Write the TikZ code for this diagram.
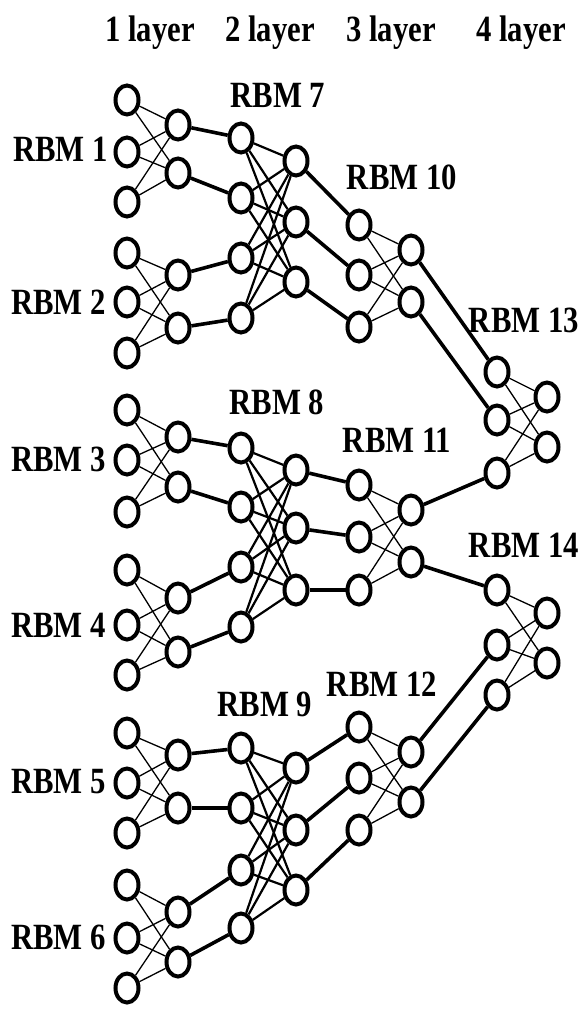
\documentclass[tikz,border=0pt]{standalone}
\usepackage{fontspec}
\setmainfont{Liberation Serif}
\usepackage{graphicx}
\usetikzlibrary{shapes.geometric}
\newcommand{\lbl}[1]{\scalebox{0.83}[1]{\bfseries #1}}
\begin{document}
\begin{tikzpicture}[x=1pt,y=-1pt,
  nd/.style={ellipse,draw,line width=4pt,minimum width=23pt,minimum height=29pt,inner sep=0pt},
  thinl/.style={line width=1.3pt},
  midl/.style={line width=2.2pt},
  thickl/.style={line width=3.6pt},
  lab/.style={inner sep=0pt,font=\fontsize{37}{40}\selectfont}]
\useasboundingbox (0,0) rectangle (582,1011);
% nodes
\foreach \y [count=\i] in {100,152,202,253,302,353,410,460,512,570,625,675,733,783,833,885,938,988}
  \node[nd] (a\i) at (127,\y) {};
\foreach \y [count=\i] in {125,173,275,328,437,487,598,652,755,808,912,962}
  \node[nd] (b\i) at (178,\y) {};
\foreach \y [count=\i] in {138,198,258,318,448,507,567,627,748,808,870,928}
  \node[nd] (c\i) at (241,\y) {};
\foreach \y [count=\i] in {161,222,282,470,528,590,768,830,890}
  \node[nd] (d\i) at (296,\y) {};
\foreach \y [count=\i] in {225,275,327,485,537,590,727,778,830}
  \node[nd] (e\i) at (359,\y) {};
\foreach \y [count=\i] in {250,302,510,562,752,802}
  \node[nd] (f\i) at (411,\y) {};
\foreach \y [count=\i] in {372,420,473,590,645,695}
  \node[nd] (g\i) at (497,\y) {};
\foreach \y [count=\i] in {397,447,613,663}
  \node[nd] (h\i) at (547,\y) {};
% layer 1 RBMs
\foreach \r in {0,...,5}
  \foreach \p in {1,2,3}
    \foreach \q in {1,2}{
      \pgfmathtruncatemacro{\u}{3*\r+\p}
      \pgfmathtruncatemacro{\v}{2*\r+\q}
      \draw[thinl] (a\u) -- (b\v);
    }
% layer 2 RBMs
\foreach \r in {0,1,2}
  \foreach \p in {1,...,4}
    \foreach \q in {1,2,3}{
      \pgfmathtruncatemacro{\u}{4*\r+\p}
      \pgfmathtruncatemacro{\v}{3*\r+\q}
      \draw[midl] (c\u) -- (d\v);
    }
% layer 3 RBMs
\foreach \r in {0,1,2}
  \foreach \p in {1,2,3}
    \foreach \q in {1,2}{
      \pgfmathtruncatemacro{\u}{3*\r+\p}
      \pgfmathtruncatemacro{\v}{2*\r+\q}
      \draw[thinl] (e\u) -- (f\v);
    }
% layer 4 RBMs
\foreach \r in {0,1}
  \foreach \p in {1,2,3}
    \foreach \q in {1,2}{
      \pgfmathtruncatemacro{\u}{3*\r+\p}
      \pgfmathtruncatemacro{\v}{2*\r+\q}
      \draw[thinl] (g\u) -- (h\v);
    }
% between layers
\foreach \i in {1,...,12} \draw[thickl] (b\i) -- (c\i);
\foreach \i in {1,...,9} \draw[thickl] (d\i) -- (e\i);
\foreach \i in {1,...,6} \draw[thickl] (f\i) -- (g\i);
% headers
\node[lab,anchor=base] (t1) at (150,42) {\lbl{1 layer}};
\node[lab,anchor=base] (t2) at (270,42) {\lbl{2 layer}};
\node[lab,anchor=base] (t3) at (391,42) {\lbl{3 layer}};
\node[lab,anchor=base] (t4) at (521,42) {\lbl{4 layer}};
% RBM labels
\node[lab,anchor=east] (r1) at (108,149) {\lbl{RBM 1}};
\node[lab,anchor=east] (r2) at (106,302) {\lbl{RBM 2}};
\node[lab,anchor=east] (r3) at (106,459) {\lbl{RBM 3}};
\node[lab,anchor=east] (r4) at (106,625) {\lbl{RBM 4}};
\node[lab,anchor=east] (r5) at (106,782) {\lbl{RBM 5}};
\node[lab,anchor=east] (r6) at (106,937) {\lbl{RBM 6}};
\node[lab] (r7) at (278,95) {\lbl{RBM 7}};
\node[lab] (r8) at (277,402) {\lbl{RBM 8}};
\node[lab] (r9) at (265,704) {\lbl{RBM 9}};
\node[lab] (r10) at (402,177) {\lbl{RBM 10}};
\node[lab] (r11) at (397,440) {\lbl{RBM 11}};
\node[lab] (r12) at (382,684) {\lbl{RBM 12}};
\node[lab] (r13) at (524,320) {\lbl{RBM 13}};
\node[lab] (r14) at (524,545) {\lbl{RBM 14}};
\end{tikzpicture}
\end{document}
